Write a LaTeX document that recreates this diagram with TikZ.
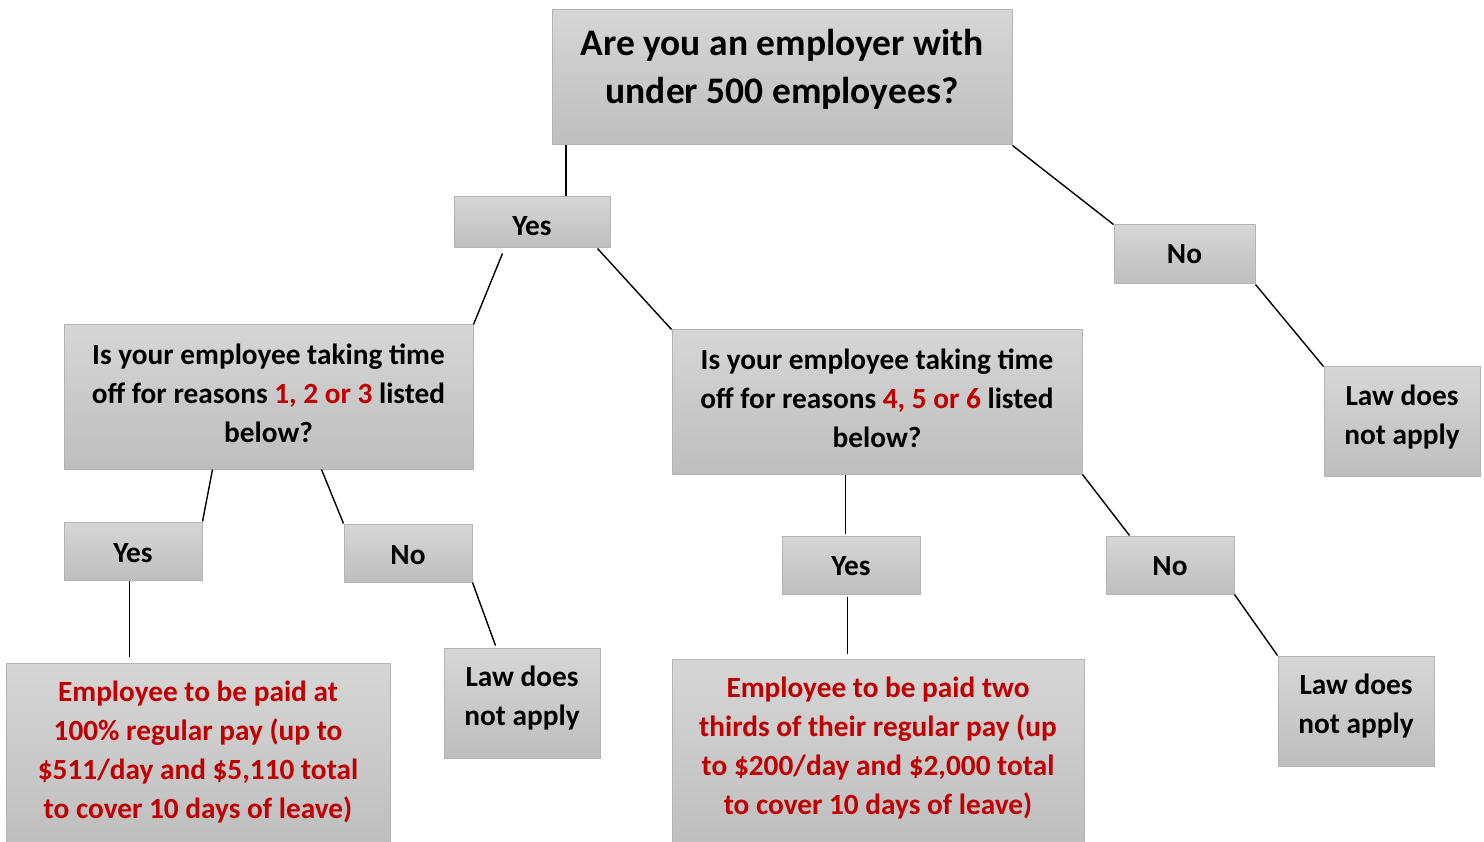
\documentclass[tikz,border=0pt]{standalone}
\usepackage{fontspec}
\setmainfont{Carlito}
\usetikzlibrary{arrows.meta}
\usetikzlibrary{positioning}

\definecolor{boxtop}{RGB}{214,214,214}
\definecolor{boxbottom}{RGB}{190,190,190}
\definecolor{boxline}{RGB}{180,180,180}
\definecolor{payred}{RGB}{192,0,0}

\tikzset{
  box/.style={draw=boxline, line width=1pt, top color=boxtop, bottom color=boxbottom, inner sep=0pt},
  boxtext/.style={align=center, inner sep=0pt, font=\fontsize{29.3}{39}\selectfont\bfseries},
  link/.style={line width=1.4pt}
}

\begin{document}
\begin{tikzpicture}[x=1pt,y=-1pt,>=Stealth]
    \useasboundingbox (0,0) rectangle (1484,842);

    \node[box, minimum width=460pt, minimum height=135pt, label={[boxtext, font=\fontsize{37.5}{48}\selectfont\bfseries, yshift=8pt]center:{Are you an employer with\\under 500 employees?}}] (employer) at (782,77.5) {};
    \node[box, minimum width=156pt, minimum height=51pt, label={[boxtext, yshift=-4pt]center:Yes}] (yes-small) at (532,222.5) {};
    \node[box, minimum width=141pt, minimum height=59pt, label={[boxtext]center:No}] (no-large) at (1184.5,254.5) {};
    \node[box, minimum width=156pt, minimum height=109pt, label={[boxtext, yshift=4pt]center:{Law does\\not apply}}] (law-large) at (1402,421.5) {};

    \node[box, minimum width=409pt, minimum height=144pt, label={[boxtext, yshift=4pt]center:{Is your employee taking time\\off for reasons \textcolor{payred}{1, 2 or 3} listed\\below?}}] (reasons-a) at (268.5,397) {};
    \node[box, minimum width=410pt, minimum height=144pt, label={[boxtext, yshift=4pt]center:{Is your employee taking time\\off for reasons \textcolor{payred}{4, 5 or 6} listed\\below?}}] (reasons-b) at (877,402) {};

    \node[box, minimum width=138pt, minimum height=58pt, label={[boxtext, yshift=-2pt]center:Yes}] (yes-a) at (133,551) {};
    \node[box, minimum width=128pt, minimum height=58pt, label={[boxtext, yshift=-2pt]center:No}] (no-a) at (408,553) {};
    \node[box, minimum width=138pt, minimum height=58pt, label={[boxtext, yshift=-1pt]center:Yes}] (yes-b) at (851,565) {};
    \node[box, minimum width=128pt, minimum height=58pt, label={[boxtext, yshift=-1pt]center:No}] (no-b) at (1170,565) {};

    \node[box, minimum width=384pt, minimum height=183pt, label={[boxtext, text=payred, yshift=2pt]center:{Employee to be paid at\\100\% regular pay (up to\\\$511/day and \$5,110 total\\to cover 10 days of leave)}}] (pay-a) at (198,754.5) {};
    \node[box, minimum width=156pt, minimum height=110pt, label={[boxtext, yshift=5pt]center:{Law does\\not apply}}] (law-a) at (522,703) {};
    \node[box, minimum width=412pt, minimum height=187pt, label={[boxtext, text=payred, yshift=4.5pt]center:{Employee to be paid two\\thirds of their regular pay (up\\to \$200/day and \$2,000 total\\to cover 10 days of leave)}}] (pay-b) at (878,752.5) {};
    \node[box, minimum width=156pt, minimum height=110pt, label={[boxtext, yshift=5pt]center:{Law does\\not apply}}] (law-b) at (1356,711) {};

    \draw[link, line width=2pt] ([xshift=14pt]employer.south west) -- ([xshift=112pt]yes-small.north west);
    \draw[link] (employer.south east) -- (no-large.north west);
    \draw[link] (no-large.south east) -- (law-large.north west);
    \draw[link] ([xshift=49pt,yshift=-5pt]yes-small.south west) -- (reasons-a.north east);
    \draw[link] ([xshift=-13pt]yes-small.south east) -- (reasons-b.north west);

    \draw[link] ([xshift=149pt]reasons-a.south west) -- (yes-a.north east);
    \draw[link] ([xshift=258pt]reasons-a.south west) -- (no-a.north west);
    \draw[link] ([xshift=66pt]yes-a.south west) -- ([xshift=124pt,yshift=6pt]pay-a.north west);
    \draw[link] (no-a.south east) -- ([xshift=52pt,yshift=2pt]law-a.north west);

    \draw[link] ([xshift=174pt]reasons-b.south west) -- ([xshift=64pt,yshift=2pt]yes-b.north west);
    \draw[link] (reasons-b.south east) -- ([xshift=24pt]no-b.north west);
    \draw[link] ([xshift=66pt,yshift=-2pt]yes-b.south west) -- ([xshift=176pt,yshift=5pt]pay-b.north west);
    \draw[link] (no-b.south east) -- (law-b.north west);
  \end{tikzpicture}
\end{document}
